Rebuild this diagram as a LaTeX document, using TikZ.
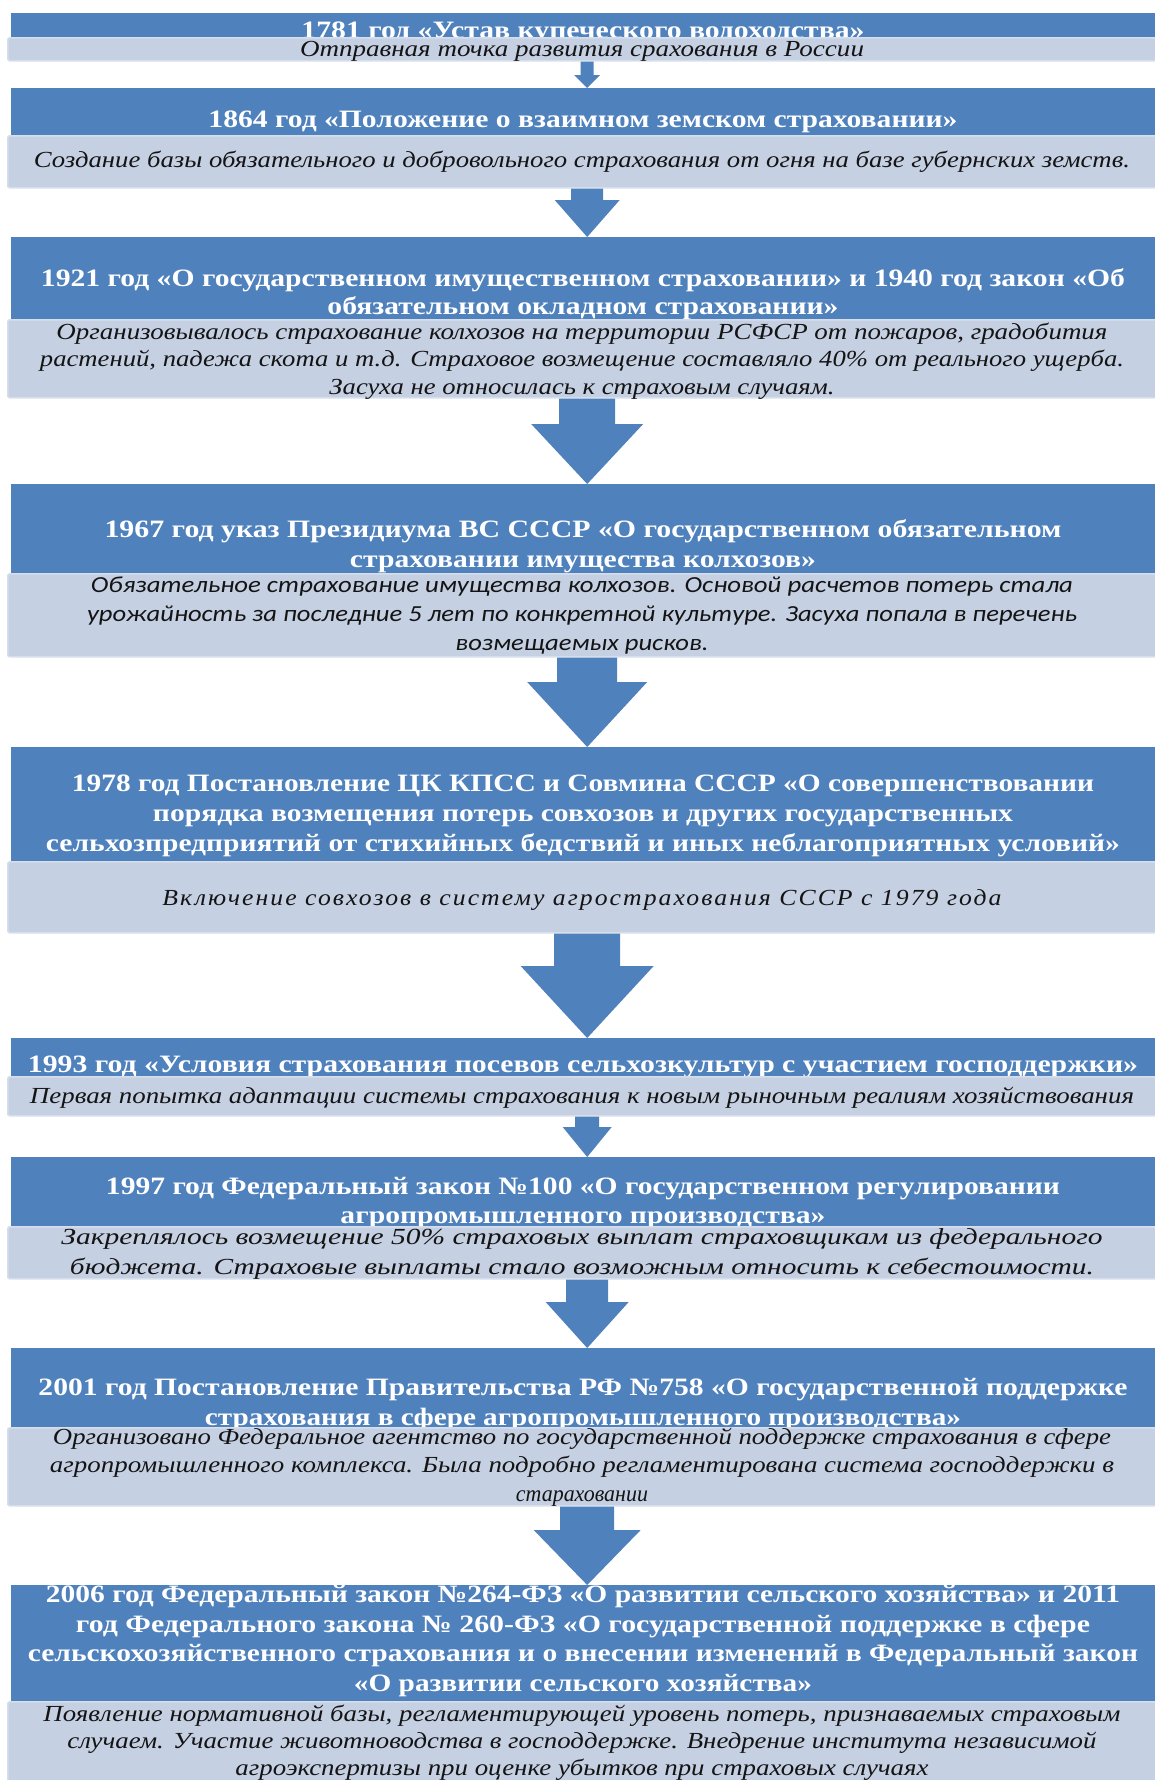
\documentclass[tikz,border=0pt]{standalone}
\usepackage{fontspec}
\usepackage{graphicx}
\setmainfont{Liberation Serif}
\newfontfamily\calfont{Carlito}
\usetikzlibrary{calc}
\definecolor{boxblue}{RGB}{79,129,189}
\definecolor{boxlight}{RGB}{197,208,227}
\definecolor{boxedge}{RGB}{214,222,236}
\definecolor{bodyink}{RGB}{20,20,20}
\newcommand\fitw[2]{\resizebox{#1pt}{\height}{#2}}
\tikzset{
  bluebox/.style={fill=boxblue, draw=none, inner sep=0pt, anchor=north west, minimum width=1144pt},
  lightbox/.style={fill=boxlight, draw=boxedge, line width=1.5pt, rounded corners=2pt, inner sep=0pt, anchor=north west, minimum width=1150pt},
  ttl/.style={text=white, font=\fontsize{25}{#1}\selectfont\bfseries, align=center, inner sep=0pt},
  ttl/.default=28,
  body/.style={text=bodyink, font=\fontsize{23}{#1}\selectfont\itshape, align=center, inner sep=0pt},
  body/.default=27,
  arrowfill/.style={fill=boxblue, draw=none}
}
\newcommand\darr[5]{%
  \path[arrowfill] let \p1=(#1.south), \p2=(#2.north) in
   ({\x2+4pt-#3pt},\y1) -- ({\x2+4pt+#3pt},\y1) -- ({\x2+4pt+#3pt},{\y2+#5pt})
   -- ({\x2+4pt+#4pt},{\y2+#5pt}) -- ({\x2+4pt},\y2) -- ({\x2+4pt-#4pt},{\y2+#5pt})
   -- ({\x2+4pt-#3pt},{\y2+#5pt}) -- cycle;}
\begin{document}
\begin{tikzpicture}[x=1pt,y=-1pt]
\useasboundingbox[fill=white] (0,0) rectangle (1155,1780);

% 1
\node[bluebox, minimum height=34pt] (b1) at (11,13) {};
\node[ttl] (t1) at (583,33) {\fitw{563}{1781 год «Устав купеческого водоходства»}};
\node[lightbox, minimum height=23pt] (l1) at (7,37) {};
\node[body] (c1) at (582,51) {\fitw{564}{Отправная точка развития срахования в России}};

% 2
\node[bluebox, minimum height=57pt] (b2) at (11,88) {};
\node[ttl] (t2) at (583,122) {\fitw{749}{1864 год «Положение о взаимном земском страховании»}};
\node[lightbox, minimum height=52pt] (l2) at (7,135) {};
\node[body] (c2) at (582,162) {\fitw{1096}{Создание базы обязательного и добровольного страхования от огня на базе губернских земств.}};

% 3
\node[bluebox, minimum height=92pt] (b3) at (11,237) {};
\node[ttl=28.5] (t3) at (583,294) {\fitw{1084}{1921 год «О государственном имущественном страховании» и 1940 год закон «Об}\\
  \fitw{511}{обязательном окладном страховании»}};
\node[lightbox, minimum height=78pt] (l3) at (7,319) {};
\node[body=27.3] (c3) at (582,361) {\fitw{1051}{Организовывалось страхование колхозов на территории РСФСР от пожаров, градобития}\\
  \fitw{1084}{растений, падежа скота и т.д. Страховое возмещение составляло 40\% от реального ущерба.}\\
  \fitw{505}{Засуха не  относилась к страховым случаям.}};

% 4
\node[bluebox, minimum height=99pt] (b4) at (11,484) {};
\node[ttl=29.5] (t4) at (583,546) {\fitw{957}{1967 год  указ Президиума ВС СССР «О государственном обязательном}\\
  \fitw{466}{страховании имущества колхозов»}};
\node[lightbox, minimum height=83pt] (l4) at (7,573) {};
\node[body, font=\fontsize{23}{29}\selectfont\calfont\itshape] (c4) at (582,616) {\fitw{982}{Обязательное страхование имущества колхозов. Основой расчетов потерь стала}\\
  \fitw{990}{урожайность за последние 5 лет по конкретной культуре. Засуха попала в перечень}\\
  \fitw{253}{возмещаемых рисков.}};

% 5
\node[bluebox, minimum height=124pt] (b5) at (11,747) {};
\node[ttl=30] (t5) at (583,816) {\fitw{1022}{1978 год Постановление ЦК КПСС и Совмина СССР «О совершенствовании}\\
  \fitw{860}{порядка возмещения  потерь совхозов и других государственных}\\
  \fitw{1074}{сельхозпредприятий от стихийных бедствий  и иных  неблагоприятных условий»}};
\node[lightbox, minimum height=71pt] (l5) at (7,861) {};
\node[body] (c5) at (582,900) {\addfontfeature{LetterSpace=8}\fitw{839}{Включение совхозов в систему агрострахования СССР с 1979 года}};

% 6
\node[bluebox, minimum height=48pt] (b6) at (11,1038) {};
\node[ttl] (t6) at (583,1067) {\fitw{1110}{1993 год «Условия страхования посевов сельхозкультур с участием господдержки»}};
\node[lightbox, minimum height=39pt] (l6) at (7,1076) {};
\node[body] (c6) at (582,1098) {\fitw{1104}{Первая попытка адаптации системы страхования к новым рыночным реалиям хозяйствования}};

% 7
\node[bluebox, minimum height=79pt] (b7) at (11,1157) {};
\node[ttl=29.5] (t7) at (583,1203) {\fitw{954}{1997 год Федеральный закон №100 «О государственном регулировании}\\
  \fitw{485}{агропромышленного производства»}};
\node[lightbox, minimum height=52pt] (l7) at (7,1226) {};
\node[body=30] (c7) at (582,1254) {\fitw{1041}{Закреплялось возмещение 50\% страховых выплат страховщикам из федерального}\\
  \fitw{1024}{бюджета. Страховые выплаты стало возможным относить к себестоимости.}};

% 8
\node[bluebox, minimum height=89pt] (b8) at (11,1348) {};
\node[ttl=30] (t8) at (583,1405) {\fitw{1089}{2001 год Постановление Правительства РФ №758 «О государственной поддержке}\\
  \fitw{756}{страхования в сфере агропромышленного производства»}};
\node[lightbox, minimum height=78pt] (l8) at (7,1427) {};
\node[body=28.4] (c8) at (582,1467) {\fitw{1058}{Организовано Федеральное агентство по государственной поддержке страхования в сфере}\\
  \fitw{1064}{агропромышленного комплекса. Была подробно регламентирована система господдержки в}\\
  \fitw{132}{стараховании}};

% 9
\node[bluebox, minimum height=126pt] (b9) at (11,1585) {};
\node[ttl=29.5] (t9) at (583,1641) {\fitw{1074}{2006 год Федеральный закон №264-ФЗ «О развитии  сельского хозяйства» и 2011}\\
  \fitw{1014}{год  Федерального закона № 260-ФЗ «О государственной поддержке в сфере}\\
  \fitw{1110}{сельскохозяйственного страхования и о внесении  изменений в Федеральный закон}\\
  \fitw{458}{«О развитии сельского хозяйства»}};
\node[lightbox, minimum height=89pt] (l9) at (7,1701) {};
\node[body=27] (c9) at (582,1743) {\fitw{1077}{Появление нормативной базы, регламентирующей уровень потерь, признаваемых страховым}\\
  \fitw{1029}{случаем.  Участие животноводства в господдержке. Внедрение института независимой}\\
  \fitw{693}{агроэкспертизы при оценке убытков при страховых случаях}};

% arrows
\darr{l1}{b2}{6.5}{13}{13}
\darr{l2}{b3}{16}{32.5}{37}
\darr{l3}{b4}{28}{56}{60}
\darr{l4}{b5}{30}{60}{65}
\darr{l5}{b6}{33}{66.5}{72}
\darr{l6}{b7}{12}{24.5}{30}
\darr{l7}{b8}{21}{41.5}{46}
\darr{l8}{b9}{27}{53.5}{55}
\end{tikzpicture}
\end{document}
